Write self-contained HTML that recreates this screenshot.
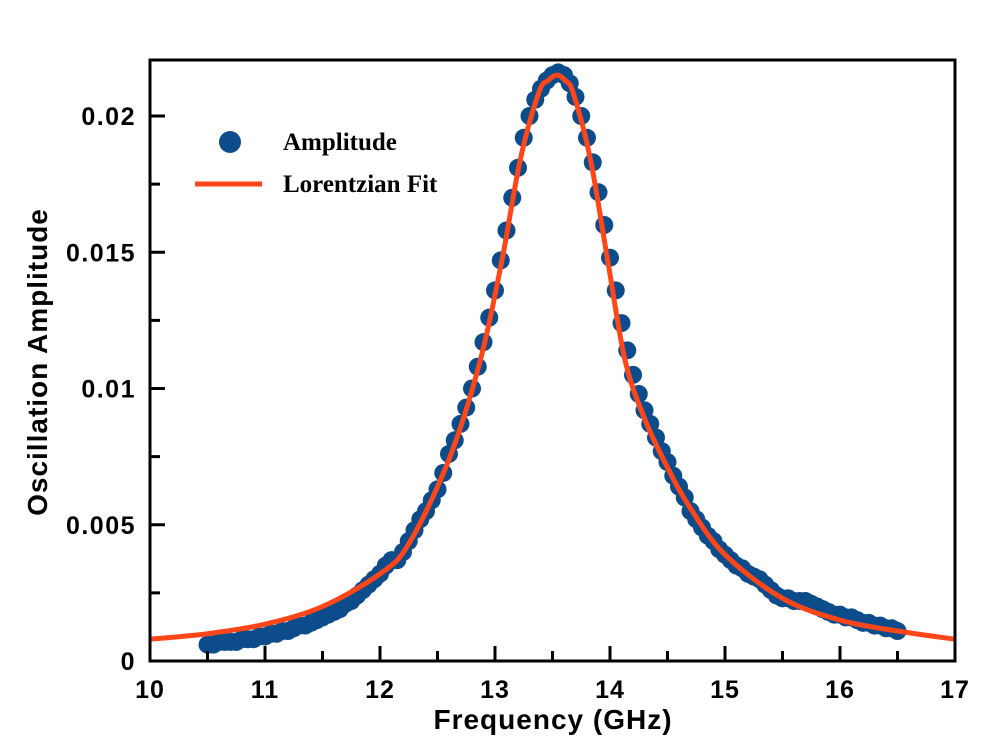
<!DOCTYPE html>
<html><head><meta charset="utf-8"><style>
html,body{margin:0;padding:0;background:#fff;}
svg{display:block;}
</style></head><body>
<svg id="chart" width="1004" height="752" xmlns="http://www.w3.org/2000/svg">
</svg>
<script>
const dataX=[10.50,10.55,10.60,10.65,10.70,10.75,10.80,10.85,10.90,10.95,11.00,11.05,11.10,11.15,11.20,11.25,11.30,11.35,11.40,11.45,11.50,11.55,11.60,11.65,11.70,11.75,11.80,11.85,11.90,11.95,12.00,12.05,12.10,12.15,12.20,12.25,12.30,12.35,12.40,12.45,12.50,12.55,12.60,12.65,12.70,12.75,12.80,12.85,12.90,12.95,13.00,13.05,13.10,13.15,13.20,13.25,13.30,13.35,13.40,13.45,13.50,13.55,13.60,13.65,13.70,13.75,13.80,13.85,13.90,13.95,14.00,14.05,14.10,14.15,14.20,14.25,14.30,14.35,14.40,14.45,14.50,14.55,14.60,14.65,14.70,14.75,14.80,14.85,14.90,14.95,15.00,15.05,15.10,15.15,15.20,15.25,15.30,15.35,15.40,15.45,15.50,15.55,15.60,15.65,15.70,15.75,15.80,15.85,15.90,15.95,16.00,16.05,16.10,16.15,16.20,16.25,16.30,16.35,16.40,16.45,16.50];
const dataY=[.0006,.0006,.0007,.0007,.0007,.0007,.0008,.0008,.0008,.0009,.0009,.0010,.0010,.0011,.0011,.0012,.0013,.0013,.0014,.0015,.0016,.0017,.0018,.0019,.0021,.0022,.0024,.0026,.0028,.0030,.0032,.0035,.0037,.0037,.0040,.0044,.0048,.0052,.0055,.0059,.0063,.0069,.0076,.0081,.0087,.0093,.0100,.0108,.0117,.0126,.0136,.0147,.0158,.0170,.0181,.0192,.0200,.0206,.0210,.0213,.0215,.0216,.0215,.0212,.0207,.0200,.0192,.0183,.0172,.0160,.0148,.0136,.0124,.0114,.0105,.0098,.0092,.0087,.0082,.0077,.0073,.0068,.0064,.0060,.0055,.0052,.0049,.0046,.0044,.0041,.0039,.0037,.0035,.0034,.0032,.0031,.0030,.0028,.0026,.0024,.0023,.0023,.0022,.0022,.0022,.0021,.0020,.0019,.0018,.0017,.0017,.0016,.0016,.0015,.0014,.0014,.0013,.0013,.0012,.0012,.0011];
const fitX=[10,10.5,11,11.5,12,12.25,12.6,12.87,13.06,13.22,13.38,13.46,13.54,13.61,13.68,13.83,13.98,14.13,14.3,14.5,14.7,15,15.5,16,16.5,17];
const fitY=[.0008,.001,.00135,.002,.0032,.0043,.0074,.011,.0147,.0184,.02085,.0213,.0215,.0213,.02085,.0184,.0147,.01105,.0089,.0071,.0056,.0039,.0023,.0015,.0011,.0008];
const xTicks=[10,11,12,13,14,15,16,17];
const yTicks=[0,0.005,0.01,0.015,0.02];
const yTickLabels=["0","0.005","0.01","0.015","0.02"];

const L=150,R=955,T=60,B=661;
const sx=v=>L+(v-10)/7*(R-L);
const sy=v=>B-v/0.02*545;
const NS="http://www.w3.org/2000/svg";
const svg=document.getElementById('chart');
function mk(tag,attrs,parent){const e=document.createElementNS(NS,tag);for(const k in attrs)e.setAttribute(k,attrs[k]);(parent||svg).appendChild(e);return e;}

const gd=mk('g',{});


for(let i=0;i<dataX.length;i++){
  const c=mk('circle',{cx:sx(dataX[i]),cy:sy(dataY[i]),r:9,fill:'#0d4c8b'},gd);
  
  
}
const P=fitX.map((x,i)=>[sx(x),sy(fitY[i])]);
let d=`M${P[0][0]},${P[0][1]}`;
for(let i=0;i<P.length-1;i++){
  const p0=P[Math.max(0,i-1)],p1=P[i],p2=P[i+1],p3=P[Math.min(P.length-1,i+2)];
  const c1=[p1[0]+(p2[0]-p0[0])/6,p1[1]+(p2[1]-p0[1])/6];
  const c2=[p2[0]-(p3[0]-p1[0])/6,p2[1]-(p3[1]-p1[1])/6];
  d+=` C${c1[0]},${c1[1]} ${c2[0]},${c2[1]} ${p2[0]},${p2[1]}`;
}
const fit=mk('path',{d:d,fill:'none',stroke:'#ff4619','stroke-width':5});



const fr=mk('rect',{x:L,y:T,width:R-L,height:B-T,fill:'none',stroke:'#000','stroke-width':3});



const font='Liberation Sans, Arial, sans-serif';
xTicks.forEach((v,i)=>{
  const t=mk('line',{x1:sx(v),x2:sx(v),y1:B,y2:B-15,stroke:'#000','stroke-width':3});
  
  
  if(i<xTicks.length-1){
    const m=mk('line',{x1:sx(v+0.5),x2:sx(v+0.5),y1:B,y2:B-10,stroke:'#000','stroke-width':3});
    
    
  }
  const tx=mk('text',{x:sx(v),y:698,'text-anchor':'middle','font-family':font,'font-weight':'bold','font-size':25,'letter-spacing':1});
  tx.textContent=v;
  
  
});
yTicks.forEach((v,i)=>{
  const t=mk('line',{x1:L,x2:L+15,y1:sy(v),y2:sy(v),stroke:'#000','stroke-width':3});
  
  
  if(i<yTicks.length-1){
    const m=mk('line',{x1:L,x2:L+10,y1:sy(v+0.0025),y2:sy(v+0.0025),stroke:'#000','stroke-width':3});
    
    
  }
  const tx=mk('text',{x:L-14,y:sy(v)+9,'text-anchor':'end','font-family':font,'font-weight':'bold','font-size':25,'letter-spacing':1.5});
  tx.textContent=yTickLabels[i];
  
  
});
const xt=mk('text',{x:553,y:729,'text-anchor':'middle','font-family':font,'font-weight':'bold','font-size':28,'letter-spacing':1});
xt.textContent='Frequency (GHz)';


const yt=mk('text',{x:0,y:0,'text-anchor':'middle','font-family':font,'font-weight':'bold','font-size':28,'letter-spacing':1,transform:'translate(47,362) rotate(-90)'});
yt.textContent='Oscillation Amplitude';


const lg=mk('g',{});


const ld=mk('circle',{cx:230,cy:142,r:11,fill:'#0d4c8b'},lg);


const lt1=mk('text',{x:283,y:150,'font-family':'Liberation Serif, serif','font-weight':'bold','font-size':25},lg);
lt1.textContent='Amplitude';


const ll=mk('line',{x1:195,x2:262,y1:184,y2:184,stroke:'#ff4619','stroke-width':5},lg);


const lt2=mk('text',{x:283,y:192,'font-family':'Liberation Serif, serif','font-weight':'bold','font-size':25},lg);
lt2.textContent='Lorentzian Fit';


</script>
</body></html>
